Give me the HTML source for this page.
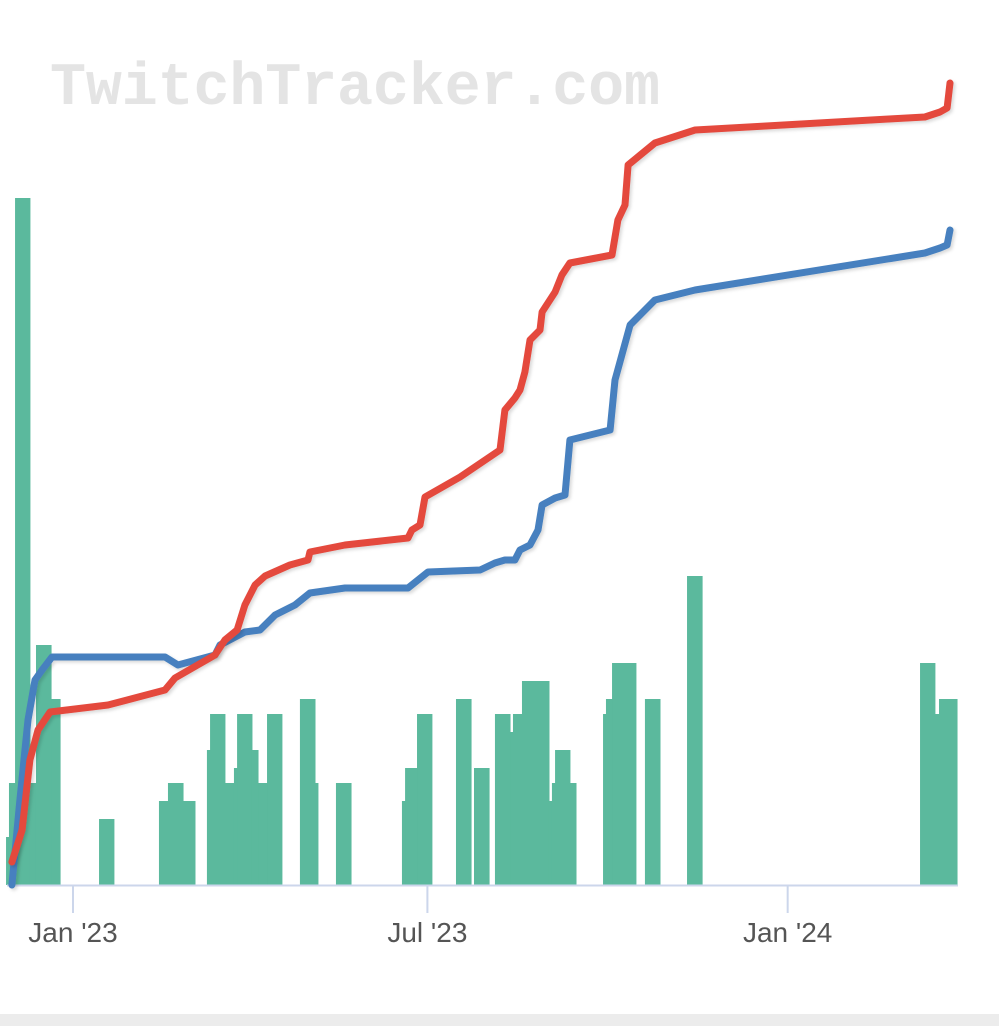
<!DOCTYPE html>
<html><head><meta charset="utf-8"><style>
html,body{margin:0;padding:0;background:#fff;width:999px;height:1026px;overflow:hidden}
svg{display:block}
</style></head><body>
<svg id="chart" width="999" height="1026" viewBox="0 0 999 1026" xmlns="http://www.w3.org/2000/svg">
<defs>
<filter id="sh" x="-10%" y="-10%" width="120%" height="120%"><feDropShadow dx="2" dy="2" stdDeviation="1.5" flood-color="#000" flood-opacity="0.15"/></filter>
</defs>
<text x="50" y="104" font-family="Liberation Mono, monospace" font-weight="bold" font-size="60" fill="#e4e4e4" textLength="610">TwitchTracker.com</text>
<g id="bars"></g>
<line x1="7" y1="885.5" x2="958" y2="885.5" stroke="#ccd6eb" stroke-width="2"/>
<g id="xaxis"></g>
<g id="lines"></g>
<rect x="0" y="1014" width="999" height="12" fill="#ececec"/>
</svg>
<script>
// days relative to 2023-01-01
const barStart=[-34.2,-32.7,-29.6,-22,-18.9,-11.2,13.3,43.9,48.5,56.2,68.4,70,77.6,82.2,83.8,91.4,94.5,99.1,115.9,123.6,134.3,168,169.6,175.7,195.6,204.8,215.5,223.2,224.7,229.3,243.1,244.6,246.2,253.8,270.7,272.2,275.3,292.1,313.6,432.6,440.2,442.3];
const barEnd=[-32.7,-29.6,-22,-18.9,-11.2,-6.6,20.9,48.5,56.2,62.3,70,77.6,82.2,83.8,91.4,94.5,99.1,106.7,123.6,125.1,142,169.6,175.7,183.3,203.3,212.5,223.2,224.7,229.3,243.1,244.6,246.2,253.8,256.9,272.2,275.3,287.5,299.8,321.3,440.2,442.3,451.5];
const barValues=[48,102,687,102,240,186,66,84,102,84,135,171,102,117,171,135,102,171,186,102,102,84,117,171,186,117,171,153,171,204,84,102,135,102,171,186,222,186,309,222,171,186];
const redDays=[-31.2,-26,-22,-17.9,-11.7,17.9,47,52.1,72.5,77.6,83.8,87.8,93,98.1,110.8,120,121,138.9,171.1,173.1,177.2,179.8,197.7,218.1,220.6,225.7,228.3,230.8,233.4,238.5,239.6,246.2,249.7,253.8,275.3,278.3,281.9,283.5,297.2,317.7,435.1,442.8,446.4,447.9];
const redValues=[23,55,125,155,173,180,195,207,230,245,255,280,300,309,320,325,333,340,347,355,360,388,408,435,475,487,495,513,545,555,573,593,610,622,630,665,680,720,742,755,768,773,777,802];
const blueDays=[-31.2,-27.1,-23,-19.4,-15.8,-10.7,47,53.6,72.5,75.1,87.8,95.5,103.2,113.4,121,138.9,171.1,181.3,207.9,215.5,220.6,225.7,228.3,233.4,237.5,239.6,246.2,251.3,253.8,274.3,276.8,284.5,297.2,317.7,435.1,442.8,446.4,447.9];
const blueValues=[0,85,165,205,215,228,228,220,230,240,253,255,270,280,292,297,297,313,315,322,325,325,335,340,355,380,387,390,445,455,505,560,585,595,632,637,640,655];
const tickDays=[0,181,365];
const tickLabels=["Jan '23","Jul '23","Jan '24"];

const NS='http://www.w3.org/2000/svg';
const X0=73, PXD=1.958, BASE=885;
function xs(d){return X0+d*PXD;}
function yb(v){return BASE-v;}
function yl(v){return BASE-v;}

const gb=document.getElementById('bars');
for(let i=0;i<barValues.length;i++){
  const r=document.createElementNS(NS,'rect');
  const x1=xs(barStart[i]),x2=xs(barEnd[i]);
  r.setAttribute('x',x1);r.setAttribute('width',x2-x1+0.5);
  r.setAttribute('y',yb(barValues[i]));r.setAttribute('height',BASE-yb(barValues[i]));
  r.setAttribute('fill','#5bb99d');
  
  
  gb.appendChild(r);
}
const ga=document.getElementById('xaxis');
for(let i=0;i<tickDays.length;i++){
  const x=xs(tickDays[i]);
  const l=document.createElementNS(NS,'line');
  l.setAttribute('x1',x);l.setAttribute('x2',x);l.setAttribute('y1',886);l.setAttribute('y2',913);
  l.setAttribute('stroke','#ccd6eb');l.setAttribute('stroke-width','2');
  
  
  ga.appendChild(l);
  const t=document.createElementNS(NS,'text');
  t.setAttribute('x',x);t.setAttribute('y',942);t.setAttribute('text-anchor','middle');
  t.setAttribute('font-family','Liberation Sans, sans-serif');t.setAttribute('font-size','28');t.setAttribute('fill','#555');
  t.textContent=tickLabels[i];
  
  
  ga.appendChild(t);
}
const gl=document.getElementById('lines');
function drawLine(days,vals,color,name){
  let d='';
  for(let i=0;i<days.length;i++){d+=(i?'L':'M')+xs(days[i]).toFixed(1)+','+yl(vals[i]).toFixed(1);}
  const p=document.createElementNS(NS,'path');
  p.setAttribute('d',d);p.setAttribute('fill','none');p.setAttribute('stroke',color);
  p.setAttribute('stroke-width','7');p.setAttribute('stroke-linejoin','round');p.setAttribute('stroke-linecap','round');
  p.setAttribute('filter','url(#sh)');
  
  
  gl.appendChild(p);
}
drawLine(blueDays,blueValues,'#4680bf','blue-line');
drawLine(redDays,redValues,'#e4483e','red-line');
</script>
</body></html>
